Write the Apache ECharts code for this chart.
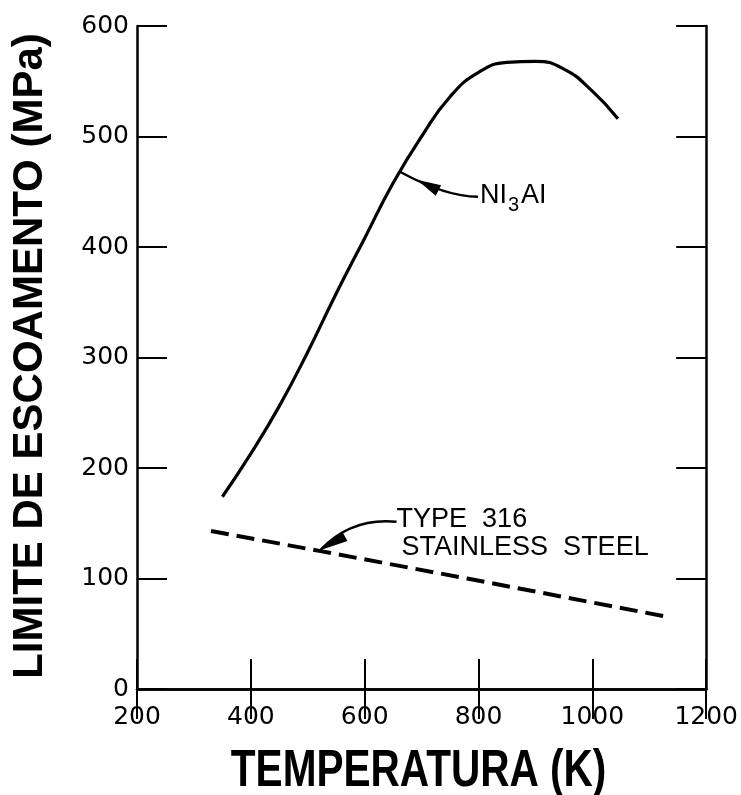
<!DOCTYPE html>
<html>
<head>
<meta charset="utf-8">
<script src="https://cdn.jsdelivr.net/npm/echarts@6/dist/echarts.min.js"></script>
<style>
  html, body { margin: 0; padding: 0; background: #fff; overflow: hidden; }
  #chart { width: 741px; height: 795px; }
</style>
</head>
<body>
<div id="chart"></div>
<script>
// Yield strength vs temperature
const niTemps   = [350, 400, 450, 500, 550, 600, 650, 700, 750, 800, 850, 900, 950, 1000, 1045];
const niYield   = [174, 213, 256, 305, 358, 408, 458, 500, 536, 558, 567, 568, 561, 541, 516];
const ssTemps   = [330, 520, 780, 1135];
const ssYield   = [143, 125, 100, 65];
const xTicks    = [200, 400, 600, 800, 1000, 1200];
const yTicks    = [0, 100, 200, 300, 400, 500, 600];

const xTitle = 'TEMPERATURA (K)';
const yTitle = 'LIMITE DE ESCOAMENTO (MPa)';

// where the callout arrows touch each curve (temperature, K)
const niCalloutT = 662;
const ssCalloutT = 519;

function pairs(xs, ys) { return xs.map((x, i) => [x, ys[i]]); }
function yAt(xs, ys, t) {
  for (let i = 0; i < xs.length - 1; i++) {
    if (t >= xs[i] && t <= xs[i + 1]) {
      const f = (t - xs[i]) / (xs[i + 1] - xs[i]);
      return ys[i] + f * (ys[i + 1] - ys[i]);
    }
  }
  return ys[ys.length - 1];
}

const chart = echarts.init(document.getElementById('chart'), null, { renderer: 'canvas', width: 741, height: 795 });

const frame = { lineStyle: { color: '#000', width: 2.5 } };
const tickIn = { show: true, inside: true, length: 30, lineStyle: { color: '#000', width: 2 } };
const tickFont = { color: '#000', fontSize: 25, fontFamily: 'DejaVu Sans', formatter: v => String(v) };

chart.setOption({
  animation: false,
  backgroundColor: '#fff',
  grid: { left: 137, width: 575, top: 26, height: 663 },
  xAxis: [
    {
      type: 'value', position: 'bottom',
      min: xTicks[0], max: xTicks[xTicks.length - 1], interval: 200,
      axisLine: frame, axisTick: tickIn, splitLine: { show: false },
      axisLabel: Object.assign({ margin: 16 }, tickFont)
    },
    {
      type: 'value', position: 'top',
      min: xTicks[0], max: xTicks[xTicks.length - 1], interval: 200,
      axisLine: frame, axisTick: tickIn, splitLine: { show: false },
      axisLabel: { show: false }
    }
  ],
  yAxis: [
    {
      type: 'value', position: 'left',
      min: yTicks[0], max: yTicks[yTicks.length - 1], interval: 100,
      axisLine: frame, axisTick: tickIn, splitLine: { show: false },
      axisLabel: Object.assign({ margin: 8 }, tickFont)
    },
    {
      type: 'value', position: 'right',
      min: yTicks[0], max: yTicks[yTicks.length - 1], interval: 100,
      axisLine: frame, axisTick: tickIn, splitLine: { show: false },
      axisLabel: { show: false }
    }
  ],
  series: [
    {
      name: 'Ni3Al', type: 'line', data: pairs(niTemps, niYield),
      smooth: 0.5, showSymbol: false,
      lineStyle: { color: '#000', width: 3.2 }
    },
    {
      name: 'Type 316', type: 'line', data: pairs(ssTemps, ssYield),
      smooth: false, showSymbol: false,
      lineStyle: { color: '#000', width: 4, type: [18, 8], cap: 'butt' }
    }
  ]
});

// callouts and axis titles
const niTip = chart.convertToPixel({ gridIndex: 0 }, [niCalloutT, yAt(niTemps, niYield, niCalloutT)]);
const ssTip = chart.convertToPixel({ gridIndex: 0 }, [ssCalloutT, yAt(ssTemps, ssYield, ssCalloutT)]);

// filled arrowhead: apex at tip, pointing back along (dx, dy)
function wedge(tip, dx, dy, len, half) {
  const L = Math.hypot(dx, dy), ux = dx / L, uy = dy / L;
  const bx = tip[0] + ux * len, by = tip[1] + uy * len;
  return [[tip[0], tip[1]], [bx - uy * half, by + ux * half], [bx + uy * half, by - ux * half]];
}

const labelFont = '27px "Liberation Sans", Arial, sans-serif';
const subFont = '20px "Liberation Sans", Arial, sans-serif';
const niFont = '27px "Liberation Sans", Arial, sans-serif';
const gridRect = chart.getModel().getComponent('grid').coordinateSystem.getRect();

chart.setOption({
  graphic: [
    // Ni3Al callout
    {
      type: 'bezierCurve', silent: true,
      shape: { x1: niTip[0] + 78, y1: niTip[1] + 25, cpx1: niTip[0] + 50, cpy1: niTip[1] + 25,
               cpx2: niTip[0] + 22, cpy2: niTip[1] + 12, x2: niTip[0], y2: niTip[1] },
      style: { stroke: '#000', lineWidth: 2.4, fill: null }
    },
    {
      type: 'polygon', silent: true,
      shape: { points: wedge([niTip[0] + 17, niTip[1] + 8], 22, 11, 24, 6) },
      style: { fill: '#000' }
    },
    {
      type: 'text', silent: true, x: niTip[0] + 80, y: niTip[1] + 24,
      style: { text: 'NI', font: niFont, fill: '#000', textAlign: 'left', textVerticalAlign: 'middle' }
    },
    {
      type: 'text', silent: true, x: niTip[0] + 108, y: niTip[1] + 34,
      style: { text: '3', font: subFont, fill: '#000', textAlign: 'left', textVerticalAlign: 'middle' }
    },
    {
      type: 'text', silent: true, x: niTip[0] + 121, y: niTip[1] + 24,
      style: { text: 'AI', font: niFont, fill: '#000', textAlign: 'left', textVerticalAlign: 'middle' }
    },
    // Type 316 callout
    {
      type: 'bezierCurve', silent: true,
      shape: { x1: ssTip[0] + 78, y1: ssTip[1] - 29, cpx1: ssTip[0] + 48, cpy1: ssTip[1] - 32,
               cpx2: ssTip[0] + 22, cpy2: ssTip[1] - 22, x2: ssTip[0] + 2, y2: ssTip[1] - 1 },
      style: { stroke: '#000', lineWidth: 2.4, fill: null }
    },
    {
      type: 'polygon', silent: true,
      shape: { points: wedge(ssTip, 27, -15, 30, 5.5) },
      style: { fill: '#000' }
    },
    {
      type: 'text', silent: true, x: ssTip[0] + 78, y: ssTip[1] - 31,
      style: { text: 'TYPE  316', font: labelFont, fill: '#000', textAlign: 'left', textVerticalAlign: 'middle' }
    },
    {
      type: 'text', silent: true, x: ssTip[0] + 83, y: ssTip[1] - 3,
      style: { text: 'STAINLESS  STEEL', font: labelFont, fill: '#000', textAlign: 'left', textVerticalAlign: 'middle' }
    },
    // axis titles
    {
      type: 'text', silent: true,
      x: gridRect.x + gridRect.width / 2 - 3, y: 772, scaleX: 0.78,
      style: { text: xTitle, font: 'bold 52px "Liberation Sans", Arial, sans-serif', fill: '#000',
               textAlign: 'center', textVerticalAlign: 'middle' }
    },
    {
      type: 'text', silent: true,
      x: 30, y: 356, rotation: Math.PI / 2,
      style: { text: yTitle, font: 'bold 42px "Liberation Sans", Arial, sans-serif', fill: '#000',
               textAlign: 'center', textVerticalAlign: 'middle' }
    }
  ]
});
</script>
</body>
</html>
